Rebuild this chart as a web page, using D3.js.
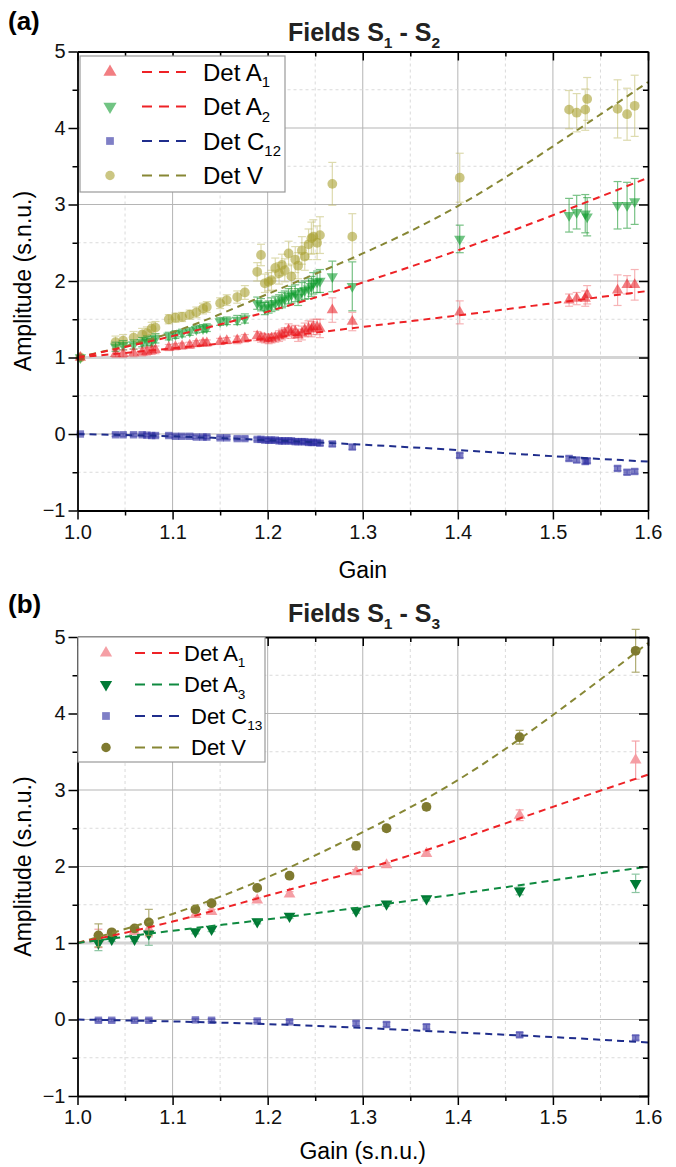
<!DOCTYPE html>
<html>
<head>
<meta charset="utf-8">
<script src="https://cdn.jsdelivr.net/npm/d3@7"></script>
<style>
  body { margin: 0; background: #fff; }
  svg { display: block; font-family: "Liberation Sans", Arial, sans-serif; }
</style>
</head>
<body>
<div id="chart"></div>
<script>
// ---- panel (a): fields S1 - S2 ----
var gainA = [1.003, 1.040, 1.048, 1.059, 1.068, 1.073, 1.078, 1.082, 1.096, 1.103,
             1.110, 1.118, 1.125, 1.132, 1.136, 1.150, 1.157, 1.168, 1.176, 1.189,
             1.193, 1.197, 1.201, 1.204, 1.208, 1.212, 1.215, 1.218, 1.222, 1.225,
             1.229, 1.232, 1.236, 1.239, 1.243, 1.246, 1.248, 1.252, 1.255, 1.268,
             1.289, 1.402, 1.517, 1.525, 1.534, 1.536, 1.568, 1.578, 1.586];
var a1A = [1.00, 1.05, 1.05, 1.06, 1.07, 1.08, 1.09, 1.10, 1.13, 1.14,
           1.15, 1.16, 1.18, 1.19, 1.19, 1.21, 1.22, 1.23, 1.25, 1.28,
           1.26, 1.25, 1.24, 1.25, 1.26, 1.28, 1.30, 1.32, 1.36, 1.33,
           1.34, 1.29, 1.32, 1.36, 1.38, 1.37, 1.40, 1.40, 1.38, 1.62,
           1.47, 1.59, 1.75, 1.77, 1.77, 1.82, 1.88, 1.95, 1.95];
var a1Aerr = [0.02, 0.05, 0.05, 0.05, 0.05, 0.05, 0.05, 0.05, 0.04, 0.04,
              0.04, 0.04, 0.04, 0.04, 0.04, 0.04, 0.04, 0.05, 0.05, 0.06,
              0.06, 0.06, 0.06, 0.06, 0.06, 0.07, 0.07, 0.07, 0.08, 0.08,
              0.08, 0.08, 0.09, 0.09, 0.10, 0.10, 0.10, 0.10, 0.12, 0.16,
              0.12, 0.15, 0.08, 0.08, 0.10, 0.12, 0.20, 0.12, 0.20];
var a2A = [1.00, 1.14, 1.16, 1.17, 1.20, 1.22, 1.21, 1.25, 1.28, 1.30,
           1.32, 1.34, 1.37, 1.38, 1.39, 1.47, 1.48, 1.49, 1.51, 1.71,
           1.69, 1.64, 1.66, 1.69, 1.71, 1.73, 1.75, 1.77, 1.80, 1.82,
           1.84, 1.79, 1.86, 1.88, 1.90, 1.93, 1.97, 1.99, 2.00, 2.06,
           1.93, 2.55, 2.86, 2.90, 2.88, 2.84, 2.99, 2.99, 3.04];
var a2Aerr = [0.02, 0.06, 0.06, 0.06, 0.06, 0.06, 0.06, 0.06, 0.05, 0.05,
              0.05, 0.05, 0.05, 0.05, 0.05, 0.05, 0.05, 0.06, 0.06, 0.08,
              0.08, 0.08, 0.08, 0.09, 0.09, 0.09, 0.10, 0.10, 0.10, 0.11,
              0.11, 0.11, 0.12, 0.12, 0.13, 0.13, 0.14, 0.14, 0.15, 0.20,
              0.32, 0.18, 0.22, 0.22, 0.25, 0.25, 0.31, 0.30, 0.30];
var vA = [1.00, 1.20, 1.22, 1.26, 1.30, 1.32, 1.38, 1.39, 1.50, 1.52,
          1.53, 1.56, 1.59, 1.64, 1.66, 1.71, 1.75, 1.79, 1.85, 2.12,
          2.34, 1.97, 1.99, 2.01, 2.17, 2.10, 2.21, 2.14, 2.36, 2.06,
          2.28, 2.20, 2.40, 2.32, 2.48, 2.56, 2.58, 2.50, 2.60, 3.27,
          2.58, 3.35, 4.24, 4.20, 4.24, 4.38, 4.25, 4.18, 4.29];
var vAerr = [0.02, 0.08, 0.08, 0.08, 0.08, 0.08, 0.08, 0.08, 0.06, 0.06,
             0.06, 0.06, 0.07, 0.07, 0.07, 0.07, 0.07, 0.08, 0.09, 0.12,
             0.14, 0.12, 0.12, 0.13, 0.13, 0.14, 0.14, 0.15, 0.16, 0.16,
             0.17, 0.17, 0.18, 0.18, 0.20, 0.21, 0.22, 0.22, 0.24, 0.28,
             0.30, 0.32, 0.25, 0.25, 0.27, 0.28, 0.38, 0.34, 0.40];
var c12A = [0.00, -0.01, -0.01, -0.01, -0.01, -0.015, -0.02, -0.02, -0.02, -0.03,
            -0.03, -0.03, -0.04, -0.04, -0.04, -0.05, -0.05, -0.06, -0.06, -0.07,
            -0.07, -0.08, -0.08, -0.08, -0.08, -0.09, -0.09, -0.09, -0.09, -0.09,
            -0.10, -0.10, -0.10, -0.10, -0.11, -0.11, -0.11, -0.11, -0.12, -0.13,
            -0.17, -0.28, -0.32, -0.34, -0.36, -0.35, -0.45, -0.50, -0.49];
var c12Aerr = [0.01, 0.02, 0.02, 0.02, 0.02, 0.02, 0.02, 0.02, 0.02, 0.02,
               0.02, 0.02, 0.02, 0.02, 0.02, 0.02, 0.02, 0.02, 0.02, 0.02,
               0.02, 0.02, 0.02, 0.02, 0.02, 0.02, 0.02, 0.02, 0.02, 0.02,
               0.02, 0.02, 0.02, 0.02, 0.02, 0.02, 0.02, 0.02, 0.03, 0.03,
               0.03, 0.03, 0.03, 0.03, 0.03, 0.03, 0.03, 0.03, 0.03];

// fitted curves
var fitGain = [1.0, 1.1, 1.2, 1.3, 1.4, 1.5, 1.6];
var fitA1a = [1.00, 1.12, 1.25, 1.40, 1.55, 1.71, 1.87];
var fitA2a = [1.00, 1.28, 1.60, 1.98, 2.40, 2.86, 3.35];
var fitVa = [1.00, 1.33, 1.83, 2.36, 2.98, 3.76, 4.60];
var fitC12a = [0.00, -0.03, -0.08, -0.14, -0.21, -0.29, -0.36];

// ---- panel (b): fields S1 - S3 ----
var gainB = [1.022, 1.036, 1.060, 1.075, 1.124, 1.141, 1.189, 1.223, 1.293, 1.325, 1.367, 1.465, 1.587];
var a1B = [1.06, 1.10, 1.15, 1.18, 1.37, 1.41, 1.56, 1.64, 1.93, 2.02, 2.17, 2.67, 3.39];
var a1Berr = [0.12, 0.03, 0.03, 0.10, 0.03, 0.03, 0.03, 0.03, 0.03, 0.03, 0.03, 0.07, 0.25];
var a3B = [1.00, 1.05, 1.05, 1.12, 1.15, 1.18, 1.28, 1.35, 1.42, 1.51, 1.58, 1.68, 1.78];
var a3Berr = [0.10, 0.03, 0.03, 0.15, 0.03, 0.03, 0.03, 0.03, 0.03, 0.03, 0.03, 0.05, 0.12];
var vB = [1.10, 1.14, 1.19, 1.27, 1.44, 1.52, 1.72, 1.88, 2.27, 2.50, 2.78, 3.69, 4.82];
var vBerr = [0.15, 0.03, 0.03, 0.17, 0.03, 0.03, 0.03, 0.03, 0.05, 0.04, 0.04, 0.09, 0.28];
var c13B = [-0.01, -0.01, -0.01, -0.01, -0.005, -0.01, -0.02, -0.03, -0.05, -0.065, -0.095, -0.20, -0.24];
var c13Berr = [0.02, 0.02, 0.02, 0.02, 0.02, 0.02, 0.02, 0.02, 0.03, 0.03, 0.03, 0.03, 0.03];

var fitA1b = [1.00, 1.28, 1.62, 1.96, 2.35, 2.78, 3.20];
var fitA3b = [1.00, 1.16, 1.31, 1.47, 1.64, 1.82, 2.00];
var fitVb = [1.00, 1.38, 1.86, 2.45, 3.13, 3.98, 4.92];
var fitC13b = [0.00, -0.025, -0.06, -0.11, -0.17, -0.23, -0.30];

var xTicks = d3.range(0, 13).map(function(i) { return +(1 + i * 0.05).toFixed(2); });
var yTicks = d3.range(0, 13).map(function(i) { return -1 + i * 0.5; });

var W = 676, H = 1167;
var FONT = '"Liberation Sans", Arial, sans-serif';

var svg = d3.select('#chart').append('svg')
    .attr('width', W)
    .attr('height', H);

var x = d3.scaleLinear().domain([1.0, 1.6]).range([77.5, 648]);

function isMajor(v, step) {
    return Math.abs(v / step - Math.round(v / step)) < 1e-6;
}

function addSubText(sel, parts, size) {
    // parts: [[text, isSub], ...]
    parts.forEach(function(p, i) {
        var prevSub = i > 0 && parts[i - 1][1];
        var t = sel.append('tspan').text(p[0]);
        if (p[1]) t.attr('font-size', size * 0.62).attr('dy', size * 0.28);
        else if (prevSub) t.attr('font-size', size).attr('dy', -size * 0.28);
    });
}

function symbolPath(kind, size) {
    var t = kind === 'tri' || kind === 'down' ? d3.symbolTriangle
          : kind === 'sq' ? d3.symbolSquare : d3.symbolCircle;
    return d3.symbol().type(t).size(size)();
}

function drawPanel(cfg) {
    var y = d3.scaleLinear().domain([-1, 5]).range(cfg.yRange);
    var g = svg.append('g');
    var top = cfg.yRange[1], bottom = cfg.yRange[0];

    // grid
    xTicks.slice(1, -1).forEach(function(v) {
        var major = isMajor(v, 0.1);
        g.append('line')
            .attr('x1', x(v)).attr('x2', x(v))
            .attr('y1', top).attr('y2', bottom)
            .attr('stroke', major ? '#b5b5b5' : '#dadada')
            .attr('stroke-width', 1)
            .attr('stroke-dasharray', major ? null : '3,3');
    });
    yTicks.slice(1, -1).forEach(function(v) {
        var major = isMajor(v, 1);
        g.append('line')
            .attr('x1', x(1.0)).attr('x2', x(1.6))
            .attr('y1', y(v)).attr('y2', y(v))
            .attr('stroke', major ? '#b5b5b5' : '#dadada')
            .attr('stroke-width', 1)
            .attr('stroke-dasharray', major ? null : '3,3');
    });
    // reference line at amplitude 1
    g.append('line')
        .attr('x1', x(1.0)).attr('x2', x(1.6))
        .attr('y1', y(1)).attr('y2', y(1))
        .attr('stroke', '#d4d4d4').attr('stroke-width', 3);

    // points with error bars
    cfg.series.forEach(function(s) {
        var pts = s.gain.map(function(gv, i) { return {g: gv, v: s.vals[i], e: s.err[i]}; });
        var sg = g.append('g');
        var eb = sg.selectAll('.eb').data(pts).enter().append('g')
            .attr('stroke', s.errColor).attr('stroke-width', 1.2)
            .attr('opacity', s.errOpacity);
        eb.append('line')
            .attr('x1', function(d) { return x(d.g); }).attr('x2', function(d) { return x(d.g); })
            .attr('y1', function(d) { return y(d.v + d.e); }).attr('y2', function(d) { return y(d.v - d.e); });
        eb.append('line')
            .attr('x1', function(d) { return x(d.g) - 4; }).attr('x2', function(d) { return x(d.g) + 4; })
            .attr('y1', function(d) { return y(d.v + d.e); }).attr('y2', function(d) { return y(d.v + d.e); });
        eb.append('line')
            .attr('x1', function(d) { return x(d.g) - 4; }).attr('x2', function(d) { return x(d.g) + 4; })
            .attr('y1', function(d) { return y(d.v - d.e); }).attr('y2', function(d) { return y(d.v - d.e); });
        sg.selectAll('.pt').data(pts).enter().append('path')
            .attr('d', symbolPath(s.shape, s.size))
            .attr('transform', function(d) {
                return 'translate(' + x(d.g) + ',' + y(d.v) + ')' + (s.shape === 'down' ? ' rotate(180)' : '');
            })
            .attr('fill', s.color)
            .attr('fill-opacity', s.opacity);
    });

    // fit lines
    var line = d3.line()
        .x(function(d) { return x(d[0]); })
        .y(function(d) { return y(d[1]); })
        .curve(d3.curveNatural);
    cfg.fits.forEach(function(f) {
        g.append('path')
            .datum(fitGain.map(function(gv, i) { return [gv, f.vals[i]]; }))
            .attr('fill', 'none')
            .attr('stroke', f.color)
            .attr('stroke-width', 2)
            .attr('stroke-dasharray', '7,5')
            .attr('d', line);
    });

    // axes
    var fmtX = function(v) { return isMajor(v, 0.1) ? d3.format('.1f')(v) : ''; };
    var fmtY = function(v) { return isMajor(v, 1) ? d3.format('d')(v) : ''; };

    var axB = g.append('g').attr('transform', 'translate(0,' + bottom + ')')
        .call(d3.axisBottom(x).tickValues(xTicks).tickFormat(fmtX).tickSizeOuter(0));
    var axL = g.append('g').attr('transform', 'translate(' + x(1.0) + ',0)')
        .call(d3.axisLeft(y).tickValues(yTicks).tickFormat(fmtY).tickSizeOuter(0));
    var axT = g.append('g').attr('transform', 'translate(0,' + top + ')')
        .call(d3.axisTop(x).tickValues(xTicks).tickFormat('').tickSizeOuter(0));
    var axR = g.append('g').attr('transform', 'translate(' + x(1.6) + ',0)')
        .call(d3.axisRight(y).tickValues(yTicks).tickFormat('').tickSizeOuter(0));

    [axB, axL, axT, axR].forEach(function(a) {
        a.select('.domain').attr('stroke', '#000').attr('stroke-width', 1.8);
        a.selectAll('.tick line').attr('stroke', '#000').attr('stroke-width', 1.5);
        a.selectAll('.tick text').attr('font-family', FONT).attr('font-size', 20).attr('fill', '#111');
    });
    axB.selectAll('.tick line').attr('y2', function(d) { return isMajor(d, 0.1) ? 9 : 5; });
    axB.selectAll('.tick text').attr('y', 14);
    axL.selectAll('.tick line').attr('x2', function(d) { return isMajor(d, 1) ? -9 : -5; });
    axL.selectAll('.tick text').attr('x', -12);
    axT.selectAll('.tick line').attr('y2', function(d) { return isMajor(d, 0.1) ? 9 : 5; });
    axR.selectAll('.tick line').attr('x2', function(d) { return isMajor(d, 1) ? -9 : -5; });

    // labels
    svg.append('text')
        .attr('x', 8).attr('y', cfg.letterY)
        .attr('font-family', FONT).attr('font-size', 26).attr('font-weight', 'bold')
        .text(cfg.letter);
    var title = svg.append('text')
        .attr('x', 364).attr('y', cfg.titleY)
        .attr('text-anchor', 'middle')
        .attr('font-family', FONT).attr('font-size', 25).attr('font-weight', 'bold')
        .attr('fill', '#222');
    addSubText(title, cfg.title, 25);
    svg.append('text')
        .attr('x', x(1.3)).attr('y', cfg.xLabelY)
        .attr('text-anchor', 'middle')
        .attr('font-family', FONT).attr('font-size', 23)
        .text(cfg.xLabel);
    svg.append('text')
        .attr('transform', 'translate(31,' + y(2) + ') rotate(-90)')
        .attr('text-anchor', 'middle')
        .attr('font-family', FONT).attr('font-size', 23)
        .text('Amplitude (s.n.u.)');

    // legend
    var L = cfg.legend;
    var lg = svg.append('g');
    lg.append('rect')
        .attr('x', L.x).attr('y', L.y).attr('width', L.w).attr('height', L.h)
        .attr('fill', '#fff').attr('stroke', '#999').attr('stroke-width', 1.2);
    L.items.forEach(function(it, i) {
        var cy = L.y + L.first + i * L.step;
        lg.append('path')
            .attr('d', symbolPath(it.shape, it.size))
            .attr('transform', 'translate(' + L.mx + ',' + cy + ')' + (it.shape === 'down' ? ' rotate(180)' : ''))
            .attr('fill', it.color).attr('fill-opacity', it.opacity);
        lg.append('line')
            .attr('x1', L.lx1).attr('x2', L.lx2).attr('y1', cy).attr('y2', cy)
            .attr('stroke', it.line).attr('stroke-width', 2).attr('stroke-dasharray', '10,7');
        var t = lg.append('text')
            .attr('x', it.tx).attr('y', cy + L.fs * 0.36)
            .attr('font-family', FONT).attr('font-size', L.fs);
        addSubText(t, it.label, L.fs);
    });
}

// colours
var RED = '#ee2226', OLIVE = '#878735', NAVY = '#1f2d8c', GREEN = '#0f8a40';

drawPanel({
    yRange: [510.5, 51.5],
    letter: '(a)', letterY: 30, titleY: 41,
    title: [['Fields S', false], ['1', true], [' - S', false], ['2', true]],
    xLabel: 'Gain', xLabelY: 578,
    series: [
        {gain: gainA, vals: vA, err: vAerr, shape: 'circ', size: 75, color: '#a8a030', opacity: 0.6, errColor: '#bdb860', errOpacity: 0.5},
        {gain: gainA, vals: a2A, err: a2Aerr, shape: 'down', size: 55, color: '#0a9a2a', opacity: 0.58, errColor: '#1f9a35', errOpacity: 0.6},
        {gain: gainA, vals: a1A, err: a1Aerr, shape: 'tri', size: 55, color: '#e8141c', opacity: 0.55, errColor: '#ee5a60', errOpacity: 0.45},
        {gain: gainA, vals: c12A, err: c12Aerr, shape: 'sq', size: 55, color: '#2a2aa0', opacity: 0.6, errColor: '#2a2aa0', errOpacity: 0.4}
    ],
    fits: [
        {vals: fitVa, color: OLIVE},
        {vals: fitA2a, color: RED},
        {vals: fitA1a, color: RED},
        {vals: fitC12a, color: NAVY}
    ],
    legend: {
        x: 80, y: 56, w: 205, h: 136, first: 16, step: 34.5, mx: 110, lx1: 142, lx2: 188, fs: 24,
        items: [
            {shape: 'tri', size: 75, color: '#e8141c', opacity: 0.55, line: RED, tx: 203, label: [['Det A', false], ['1', true]]},
            {shape: 'down', size: 75, color: '#0a9a2a', opacity: 0.58, line: RED, tx: 203, label: [['Det A', false], ['2', true]]},
            {shape: 'sq', size: 60, color: '#2a2aa0', opacity: 0.6, line: NAVY, tx: 203, label: [['Det C', false], ['12', true]]},
            {shape: 'circ', size: 70, color: '#a8a030', opacity: 0.6, line: OLIVE, tx: 203, label: [['Det V', false]]}
        ]
    }
});

drawPanel({
    yRange: [1096, 637],
    letter: '(b)', letterY: 613, titleY: 622,
    title: [['Fields S', false], ['1', true], [' - S', false], ['3', true]],
    xLabel: 'Gain (s.n.u.)', xLabelY: 1159,
    series: [
        {gain: gainB, vals: c13B, err: c13Berr, shape: 'sq', size: 55, color: '#2a2aa0', opacity: 0.6, errColor: '#2a2aa0', errOpacity: 0.4},
        {gain: gainB, vals: a1B, err: a1Berr, shape: 'tri', size: 60, color: '#f49aa0', opacity: 0.95, errColor: '#f49aa0', errOpacity: 0.9},
        {gain: gainB, vals: a3B, err: a3Berr, shape: 'down', size: 60, color: '#007a35', opacity: 1, errColor: '#40a066', errOpacity: 0.6},
        {gain: gainB, vals: vB, err: vBerr, shape: 'circ', size: 75, color: '#7f7a30', opacity: 1, errColor: '#9c9850', errOpacity: 0.8}
    ],
    fits: [
        {vals: fitVb, color: OLIVE},
        {vals: fitA1b, color: RED},
        {vals: fitA3b, color: GREEN},
        {vals: fitC13b, color: NAVY}
    ],
    legend: {
        x: 78, y: 637, w: 187, h: 125, first: 16, step: 31.5, mx: 106, lx1: 135, lx2: 180, fs: 22,
        items: [
            {shape: 'tri', size: 65, color: '#f49aa0', opacity: 0.95, line: RED, tx: 184, label: [['Det A', false], ['1', true]]},
            {shape: 'down', size: 65, color: '#007a35', opacity: 1, line: GREEN, tx: 184, label: [['Det A', false], ['3', true]]},
            {shape: 'sq', size: 60, color: '#2a2aa0', opacity: 0.6, line: NAVY, tx: 191, label: [['Det C', false], ['13', true]]},
            {shape: 'circ', size: 70, color: '#7f7a30', opacity: 1, line: OLIVE, tx: 191, label: [['Det V', false]]}
        ]
    }
});
</script>
</body>
</html>
